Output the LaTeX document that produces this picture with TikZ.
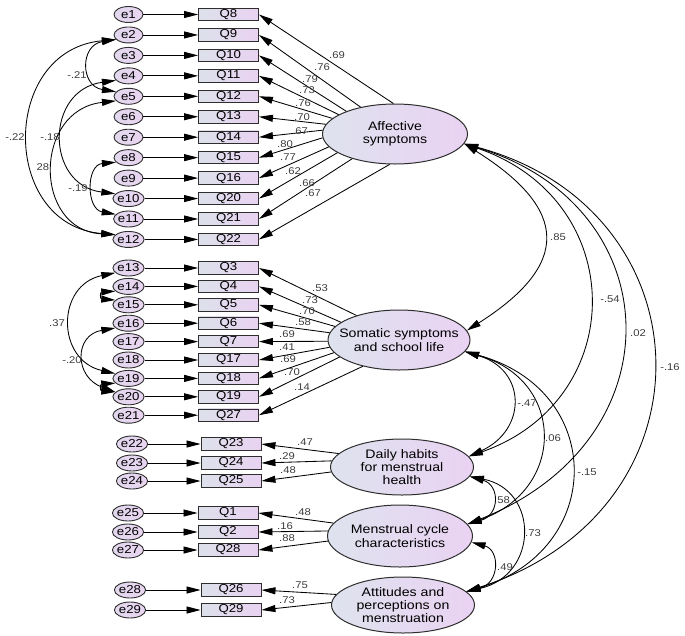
\documentclass[tikz,border=0pt]{standalone}
\usepackage{fontspec}
\setmainfont[FakeStretch=1.15]{Liberation Sans}
\usetikzlibrary{arrows.meta,shapes.geometric}
\definecolor{boxA}{HTML}{DDE1EB}
\definecolor{boxB}{HTML}{E9D2F1}
\definecolor{errA}{HTML}{E2D8EE}
\definecolor{errB}{HTML}{E9D4F0}
\definecolor{latA}{HTML}{DEE3EE}
\definecolor{latB}{HTML}{EAD2F3}
\definecolor{edgecol}{HTML}{2E2E2E}
\definecolor{lblcol}{HTML}{3C3C3C}
\begin{document}
\begin{tikzpicture}[x=1pt,y=-1pt,
  err/.style={ellipse, draw=edgecol, line width=0.9pt, left color=errA, right color=errB,
    minimum width=29pt, minimum height=16pt, inner sep=0pt, font=\fontsize{11.5}{12}\selectfont},
  obs/.style={rectangle, draw=edgecol, line width=0.9pt, left color=boxA, right color=boxB,
    minimum width=60pt, minimum height=12.5pt, inner sep=0pt, font=\fontsize{11.5}{12}\selectfont},
  lat/.style={ellipse, draw=edgecol, line width=1pt, left color=latA, right color=latB, inner sep=0pt},
  lattext/.style={align=center, inner sep=0pt, font=\fontsize{12.3}{13.3}\selectfont},
  lbl/.style={font=\fontsize{9.8}{11}\selectfont, inner sep=0pt, text=lblcol},
  arr/.style={-{Triangle[length=14pt,width=7pt]}, line width=0.85pt},
  cov/.style={{Triangle[length=14pt,width=7pt]}-{Triangle[length=14pt,width=7pt]}, line width=0.85pt}
]
\useasboundingbox (0,0) rectangle (685,635);

% ---------- latent variables
\node[lat, minimum width=145pt, minimum height=60pt] (aff) at (395,134) {};
\node[lattext] (afft) at (aff) {Affective\\symptoms};
\node[lat, minimum width=142pt, minimum height=60pt] (som) at (399,340) {};
\node[lattext] (somt) at (som) {Somatic symptoms\\and school life};
\node[lat, minimum width=143pt, minimum height=56pt] (day) at (402,467) {};
\node[lattext] (dayt) at (day) {Daily habits\\for menstrual\\health};
\node[lat, minimum width=145pt, minimum height=62pt] (men) at (400,536) {};
\node[lattext] (ment) at (men) {Menstrual cycle\\characteristics};
\node[lat, minimum width=143pt, minimum height=56pt] (att) at (403,605) {};
\node[lattext] (attt) at (att) {Attitudes and\\perceptions on\\menstruation};

% ---------- group 1 (affective)
\foreach \i/\q/\a in {1/8/93.8,2/9/142.4,3/10/155.4,4/11/161.6,5/12/166.4,6/13/172.3,
  7/14/177.5,8/15/183.3,9/16/191,10/20/198.1,11/21/210,12/22/260}{
  \pgfmathsetmacro\yy{14.5+20.45*(\i-1)}
  \node[err] (e\i) at (128.5,\yy) {e\i};
  \node[obs] (q\q) at (228.5,\yy) {Q\q};
  \draw[arr] (e\i) -- (q\q);
  \draw[arr] (aff.\a) -- (q\q.east);
}
% ---------- group 2 (somatic)
\foreach \i/\q/\a [count=\k from 0] in {13/3/150.7,14/4/163.4,15/5/168.5,16/6/174,17/7/181.7,
  18/17/186.6,19/18/191,20/19/196.2,21/27/216.1}{
  \pgfmathsetmacro\yy{268+18.4*\k}
  \node[err] (e\i) at (128.5,\yy) {e\i};
  \node[obs] (q\q) at (228.5,\yy) {Q\q};
  \draw[arr] (e\i) -- (q\q);
  \draw[arr] (som.\a) -- (q\q.east);
}
% ---------- group 3 (daily habits)
\foreach \i/\q/\a/\yy in {22/23/168.7/444,23/24/175.9/463,24/25/184.9/481}{
  \node[err] (e\i) at (132,\yy) {e\i};
  \node[obs] (q\q) at (231,\yy) {Q\q};
  \draw[arr] (e\i) -- (q\q);
  \draw[arr] (day.\a) -- (q\q.east);
}
% ---------- group 4 (menstrual cycle)
\foreach \i/\q/\a/\yy in {25/1/169.5/513,26/2/176.7/532,27/28/184.9/550}{
  \node[err] (e\i) at (128,\yy) {e\i};
  \node[obs] (q\q) at (228,\yy) {Q\q};
  \draw[arr] (e\i) -- (q\q);
  \draw[arr] (men.\a) -- (q\q.east);
}
% ---------- group 5 (attitudes)
\foreach \i/\q/\a/\yy in {28/26/171.2/590,29/29/178.4/610}{
  \node[err] (e\i) at (130,\yy) {e\i};
  \node[obs] (q\q) at (231,\yy) {Q\q};
  \draw[arr] (e\i) -- (q\q);
  \draw[arr] (att.\a) -- (q\q.east);
}

% ---------- loading labels
\foreach \n/\x/\y/\t in {1/337/55/.69,2/322/67/.76,3/310/79/.79,4/307/90/.73,5/303/103/.76,
  6/302/117/.70,7/300/131/.67,8/285/144/.80,9/288/157/.77,10/293/171/.62,11/307/183/.66,
  12/313/193/.67,13/320/288/.53,14/310/300/.73,15/307/311/.70,16/303/322/.58,17/287/334/.69,
  18/287/347/.41,19/288/359/.69,20/292/372/.70,21/302/387/.14,22/305/442/.47,23/287/456/.29,
  24/288/470/.48,25/303/512/.48,26/285/526/.16,27/287/538/.88,28/300/585/.75,29/287/600/.73}{
  \node[lbl] (ld\n) at (\x,\y) {\t};
}

% ---------- latent covariances
\draw[cov] (aff.-8) .. controls (570,210) and (570,265) .. (som.8);
\draw[cov] (aff.-8) .. controls (630,200) and (630,400) .. (day.9.7);
\draw[cov] (aff.-8) .. controls (670,205) and (680,440) .. (men.10);
\draw[cov] (aff.-8) .. controls (710,210) and (720,510) .. (att.12);
\draw[cov] (som.-10.7) .. controls (527,370) and (527,430) .. (day.9.7);
\draw[cov] (som.-10.7) .. controls (566,380) and (566,490) .. (men.10);
\draw[cov] (som.-10.7) .. controls (606,390) and (606,550) .. (att.12);
\draw[cov] (day.-8.4) .. controls (500,485) and (500,515) .. (men.10);
\draw[cov] (day.-8.4) .. controls (539,490) and (539,575) .. (att.12);
\draw[cov] (men.-5.7) .. controls (500,550) and (500,583) .. (att.12);

\foreach \n/\x/\y/\t in {1/558/237/.85,2/610/299/-.54,3/638/333/.02,4/670/367/-.16,
  5/527/403/-.47,6/553/438/.06,7/587/472/-.15,8/502/500/.58,9/533/533/.73,10/505/567/.49}{
  \node[lbl] (lc\n) at (\x,\y) {\t};
}

% ---------- error covariances
\draw[cov] (e2.200) .. controls (80,45) and (80,86) .. (e5.160);
\draw[cov] (e2.200) .. controls (0,50) and (0,225) .. (e12.160);
\draw[cov] (e4.200) .. controls (45,90) and (45,185) .. (e10.160);
\draw[cov] (e5.200) .. controls (33,110) and (33,230) .. (e12.160);
\draw[cov] (e8.200) .. controls (86,165) and (86,209) .. (e11.160);
\draw[cov] (e14.200) .. controls (100,292) and (100,299) .. (e15.160);
\draw[cov] (e13.200) .. controls (56,285) and (56,360) .. (e19.160);
\draw[cov] (e16.200) .. controls (74,335) and (74,377) .. (e20.160);
\draw[cov] (e19.200) .. controls (100,384) and (100,391) .. (e20.160);

\foreach \n/\x/\y/\t in {1/77/75/-.21,2/15/137/-.22,3/50/137/-.18,4/43/167/28,5/78/188/-.19,
  6/57/323/.37,7/72/360/-.20}{
  \node[lbl] (le\n) at (\x,\y) {\t};
}
\end{tikzpicture}
\end{document}
